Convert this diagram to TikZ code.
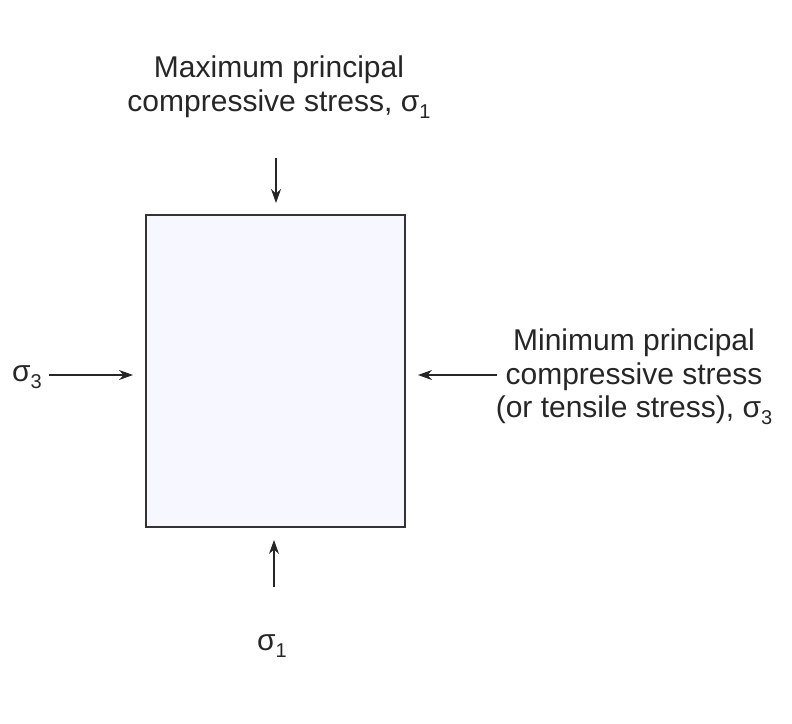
\documentclass[tikz,border=0pt]{standalone}
\usepackage{fontspec}
\setmainfont{Liberation Sans}
\usetikzlibrary{arrows.meta}
\newcommand{\sigsub}[1]{σ\raisebox{-7pt}{\fontsize{20}{20}\selectfont #1}}
\begin{document}
\begin{tikzpicture}[x=1pt,y=-1pt,
  lbl/.style={font=\fontsize{30}{33.5}\selectfont, color=black!85, inner sep=0pt, align=center},
  arr/.style={line width=1.3pt, color=black!85, -{Stealth[length=14pt,width=10pt]}},
  block/.style={draw=black!80, line width=1.8pt, fill=blue!3!white}]
\useasboundingbox (0,0) rectangle (792,723);
\node[block, minimum width=259pt, minimum height=312pt, inner sep=0pt] (box) at (275.5,371) {};
\node[lbl] (top) at (279,87) {Maximum principal\\compressive stress, \sigsub{1}};
\node[lbl, align=center] (right) at (634,377) {Minimum principal\\compressive stress\\(or tensile stress), \sigsub{3}};
\node[lbl] (left) at (27,377) {\sigsub{3}};
\node[lbl] (bot) at (272,646) {\sigsub{1}};
\coordinate (tt) at (276,158);
\coordinate (tb) at (276,203);
\coordinate (bt) at (274,587);
\coordinate (bb) at (274,540);
\coordinate (lt) at (49,375);
\coordinate (lb) at (133,375);
\coordinate (rt) at (497,375);
\coordinate (rb) at (418,375);
\draw[arr] (tt) -- (tb);
\draw[arr] (bt) -- (bb);
\draw[arr] (lt) -- (lb);
\draw[arr] (rt) -- (rb);
\end{tikzpicture}
\end{document}
